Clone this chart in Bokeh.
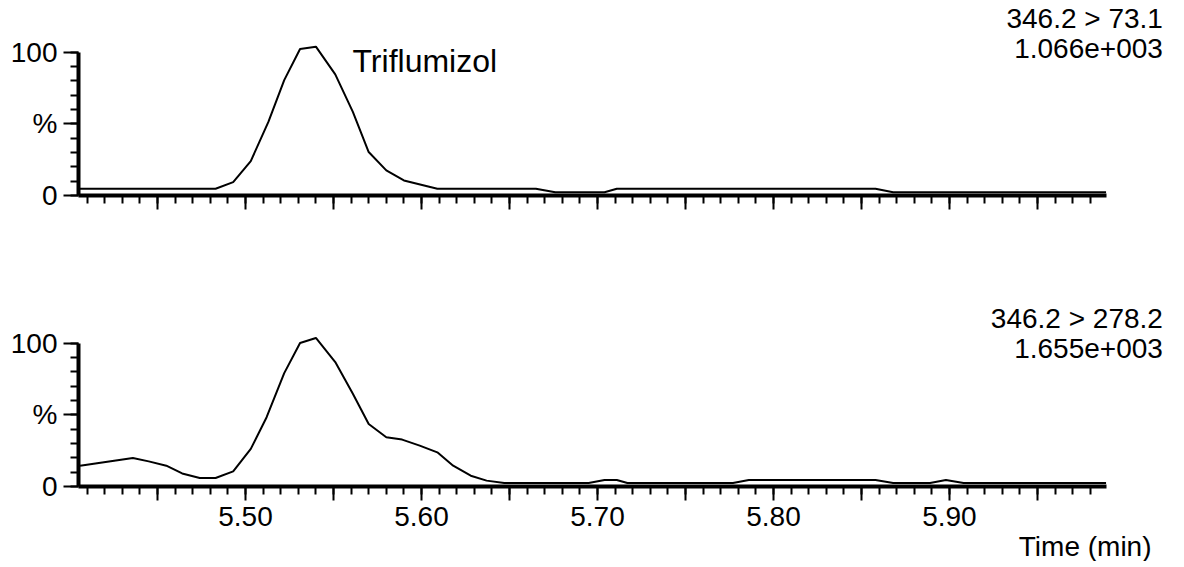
from bokeh.plotting import figure
from bokeh.models import FixedTicker, Label, Title
from bokeh.layouts import column
from bokeh.embed import file_html
from bokeh.resources import INLINE

# ---- data ----
top_time = [5.405, 5.483, 5.493, 5.503, 5.513, 5.522, 5.531, 5.540, 5.551, 5.561,
            5.570, 5.580, 5.590, 5.609, 5.665, 5.676, 5.704, 5.711, 5.858, 5.868, 5.989]
top_pct = [4.7, 4.7, 9.3, 24.0, 51.3, 80.4, 102.1, 103.7, 84.4, 58.3,
           30.3, 17.5, 10.5, 4.7, 4.7, 2.3, 2.3, 4.7, 4.7, 2.3, 2.3]

bot_time = [5.406, 5.436, 5.445, 5.455, 5.464, 5.474, 5.483, 5.493, 5.503, 5.512,
            5.522, 5.531, 5.540, 5.551, 5.561, 5.570, 5.580, 5.589, 5.599, 5.609,
            5.618, 5.628, 5.637, 5.647, 5.695, 5.704, 5.711, 5.717, 5.777, 5.786,
            5.858, 5.868, 5.889, 5.898, 5.908, 5.989]
bot_pct = [14.5, 19.9, 17.5, 14.5, 9.1, 5.9, 5.9, 10.5, 26.2, 48.3,
           79.0, 100.0, 103.5, 86.7, 64.6, 43.6, 34.3, 32.7, 28.5, 23.8,
           14.5, 7.5, 4.1, 2.4, 2.4, 4.5, 4.5, 2.4, 2.4, 4.5,
           4.5, 2.4, 2.4, 4.5, 2.4, 2.4]

x_major = [5.45, 5.50, 5.55, 5.60, 5.65, 5.70, 5.75, 5.80, 5.85, 5.90, 5.95]
x_minor = [5.41, 5.42, 5.43, 5.44, 5.45, 5.46, 5.47, 5.48, 5.49, 5.50,
           5.51, 5.52, 5.53, 5.54, 5.55, 5.56, 5.57, 5.58, 5.59, 5.60,
           5.61, 5.62, 5.63, 5.64, 5.65, 5.66, 5.67, 5.68, 5.69, 5.70,
           5.71, 5.72, 5.73, 5.74, 5.75, 5.76, 5.77, 5.78, 5.79, 5.80,
           5.81, 5.82, 5.83, 5.84, 5.85, 5.86, 5.87, 5.88, 5.89, 5.90,
           5.91, 5.92, 5.93, 5.94, 5.95, 5.96, 5.97, 5.98]
x_labels = ["", "5.50", "", "5.60", "", "5.70", "", "5.80", "", "5.90", ""]
y_major = [0, 50, 100]
y_minor = [0, 10, 20, 30, 40, 50, 60, 70, 80, 90, 100]
y_labels = ["0", "%", "100"]

top_channel = "346.2 > 73.1"
top_intensity = "1.066e+003"
bot_channel = "346.2 > 278.2"
bot_intensity = "1.655e+003"
compound = "Triflumizol"
x_title = "Time (min)"

FONT = "Liberation Sans"
X_AXIS = (5.4051, 5.9892)
X_RANGE = (5.4051, 6.0313)
PX = 1.435  # pixels per percent unit


def make_fig(frame_h, border_bottom, show_x_labels):
    p = figure(frame_width=1102, frame_height=frame_h,
               min_border_left=78, min_border_right=0,
               min_border_top=0, min_border_bottom=border_bottom,
               x_range=X_RANGE, y_range=(0, frame_h / PX),
               output_backend="svg", toolbar_location=None)
    p.outline_line_color = None
    p.xgrid.visible = False
    p.ygrid.visible = False
    p.background_fill_color = "white"
    p.border_fill_color = "white"

    xa = p.xaxis[0]
    xa.ticker = FixedTicker(ticks=x_major, minor_ticks=x_minor)
    xa.bounds = X_AXIS
    if show_x_labels:
        xa.major_label_overrides = {t: s for t, s in zip(x_major, x_labels)}
    else:
        xa.major_label_overrides = {t: "" for t in x_major}
    xa.axis_line_width = 4
    xa.axis_line_color = "black"
    xa.major_tick_out = 14
    xa.major_tick_in = 0
    xa.minor_tick_out = 8
    xa.minor_tick_in = 0
    xa.major_tick_line_width = 2
    xa.minor_tick_line_width = 2
    xa.major_label_standoff = 6
    xa.major_label_text_font = FONT
    xa.major_label_text_font_size = "28px"
    xa.major_label_text_color = "black"

    ya = p.yaxis[0]
    ya.ticker = FixedTicker(ticks=y_major, minor_ticks=y_minor)
    ya.bounds = (0, 100)
    ya.major_label_overrides = {t: s for t, s in zip(y_major, y_labels)}
    ya.axis_line_width = 4
    ya.axis_line_color = "black"
    ya.major_tick_out = 15
    ya.major_tick_in = 0
    ya.minor_tick_out = 8
    ya.minor_tick_in = 0
    ya.major_tick_line_width = 2
    ya.minor_tick_line_width = 2
    ya.major_label_standoff = 6
    ya.major_label_orientation = "horizontal"
    ya.major_label_text_font = FONT
    ya.major_label_text_font_size = "28px"
    ya.major_label_text_color = "black"
    return p


def add_label(p, x, y, text, align, size):
    p.add_layout(Label(x=x, y=y, text=text, text_align=align,
                       text_baseline="middle", text_font=FONT,
                       text_font_size=size, text_color="black"))


# top panel: frame from y=0px to 195px, canvas height 300
p1 = make_fig(195, 105, False)
p1.line(top_time, top_pct, line_color="black", line_width=2)
add_label(p1, 6.0213, 123.3, top_channel, "right", "28px")
add_label(p1, 6.0213, 102.4, top_intensity, "right", "28px")
add_label(p1, 5.5608, 94.0, compound, "left", "32px")

# bottom panel: frame from 300px to 486px
p2 = make_fig(186, 73, True)
p2.line(bot_time, bot_pct, line_color="black", line_width=2)
add_label(p2, 6.0213, 117.1, bot_channel, "right", "28px")
add_label(p2, 6.0213, 96.2, bot_intensity, "right", "28px")
p2.add_layout(Title(text=x_title, align="right", offset=29, standoff=0,
                    text_font=FONT, text_font_size="28px",
                    text_font_style="normal", text_color="black"), "below")

layout = column(p1, p2)
open("out.html", "w").write(file_html(layout, INLINE))
